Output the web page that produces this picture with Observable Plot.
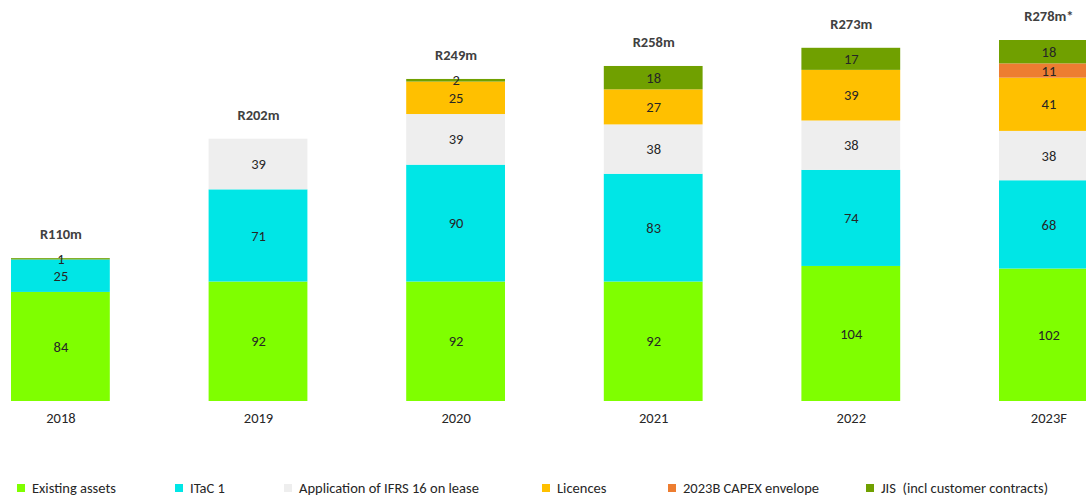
<!DOCTYPE html>
<html><head><meta charset="utf-8">
<script src="https://cdn.jsdelivr.net/npm/d3@7"></script>
<script src="https://cdn.jsdelivr.net/npm/@observablehq/plot@0.6"></script>
<style>
body{margin:0;background:#fff;font-family:Carlito,"Liberation Sans",Arial,sans-serif;}
#chart{position:relative;width:1086px;height:497px;overflow:hidden}
#chart svg{display:block}
.legend{position:absolute;top:480px;left:0;width:1086px;height:16px;font-size:14.5px;line-height:16px;color:#262626}
.item{position:absolute;top:0;height:16px;display:flex;align-items:center;white-space:pre}
.sw{width:8px;height:8px;margin-right:7px;flex:none}
</style></head><body><div id="chart"></div>
<script>
const years = ["2018", "2019", "2020", "2021", "2022", "2023F"];
const seriesNames = ["Existing assets", "ITaC 1", "Application of IFRS 16 on lease", "Licences", "2023B CAPEX envelope", "JIS  (incl customer contracts)"];
const existingAssets = [84, 92, 92, 92, 104, 102];
const itac1 = [25, 71, 90, 83, 74, 68];
const ifrs16 = [0, 39, 39, 38, 38, 38];
const licences = [0, 0, 25, 27, 39, 41];
const capexEnvelope = [0, 0, 0, 0, 0, 11];
const jis = [1, 0, 2, 18, 17, 18];
const totalLabels = ["R110m", "R202m", "R249m", "R258m", "R273m", "R278m*"];
const colors = ["#7FFF00", "#00E6E6", "#EEEEEE", "#FFC000", "#ED7D31", "#70A000"];

const seriesValues = [existingAssets, itac1, ifrs16, licences, capexEnvelope, jis];
const rows = [];
seriesValues.forEach((vals, s) => vals.forEach((v, i) => rows.push({year: years[i], series: seriesNames[s], value: v})));
const totals = years.map((y, i) => ({year: y, total: d3.sum(seriesValues, vals => vals[i]), label: totalLabels[i]}));

const font = 'Carlito, "Liberation Sans", Arial, sans-serif';
const chart = Plot.plot({
  width: 1086, height: 475,
  marginTop: 40, marginBottom: 74, marginLeft: 0, marginRight: 0,
  style: {fontFamily: font, fontSize: "14.5px", background: "#fff", color: "#262626"},
  x: {domain: years, range: [-87.8, 1196.6], padding: 0.5, round: false, label: null},
  y: {domain: [0, 278], axis: null},
  color: {domain: seriesNames, range: colors},
  marks: [
    Plot.barY(rows, {x: "year", y: "value", fill: "series", order: seriesNames}),
    Plot.text(rows.filter(d => d.value > 0), Plot.stackY({
      x: "year", y: "value", z: "series", order: seriesNames,
      text: d => String(d.value), fill: "#262626", fontSize: 14.5
    })),
    Plot.text(totals, {x: "year", y: "total", text: "label", dy: -24, fontWeight: "bold", fill: "#404040", fontSize: 14.5}),
    Plot.axisX({tickSize: 0, tickPadding: 11, fontSize: 14.5, color: "#262626", label: null})
  ]
});
const root = document.getElementById("chart");
root.appendChild(chart);

const legendLeft = [17, 175, 284, 542, 668, 866];
const legend = document.createElement("div");
legend.className = "legend";
seriesNames.forEach((name, i) => {
  const item = document.createElement("div");
  item.className = "item";
  item.style.left = legendLeft[i] + "px";
  const sw = document.createElement("span");
  sw.className = "sw";
  sw.style.background = colors[i];
  const t = document.createElement("span");
  t.textContent = name;
  item.appendChild(sw); item.appendChild(t);
  legend.appendChild(item);
});
root.appendChild(legend);
</script></body></html>
